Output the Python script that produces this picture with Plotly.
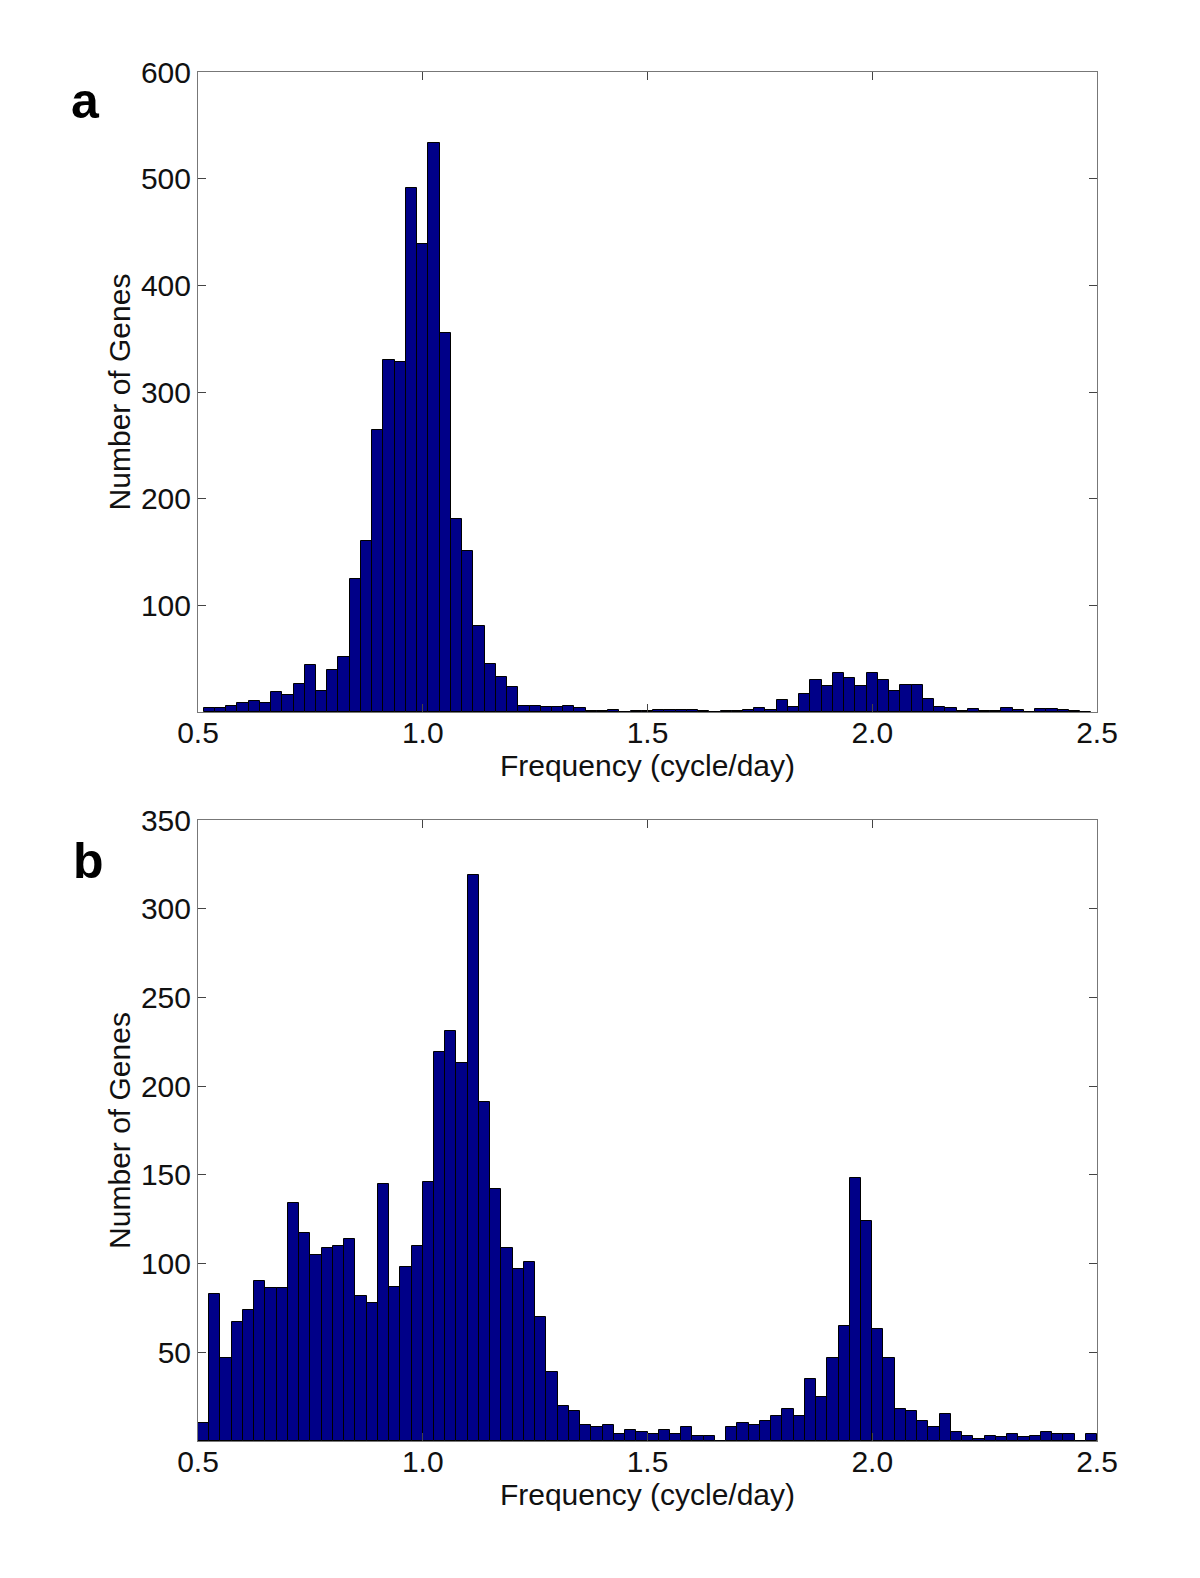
import plotly.graph_objects as go

# Panel a: bin centers 0.525 ... 2.475 (width 0.025)
a_centers = [round(0.525 + 0.025 * k, 4) for k in range(79)]
a_counts = [4, 4, 6, 8, 10, 8, 19, 16, 26, 44, 20, 39, 52, 125, 160, 264, 330, 328, 491, 439,
            533, 355, 181, 151, 81, 45, 33, 23, 6, 6, 5, 5, 6, 4, 1, 1, 2, 0, 1, 1,
            2, 2, 2, 2, 1, 0, 1, 1, 2, 4, 2, 11, 5, 17, 30, 24, 37, 32, 24, 37,
            30, 20, 25, 25, 12, 5, 4, 1, 3, 1, 1, 4, 2, 0, 3, 3, 2, 1, 0]

# Panel b: bin centers 0.5125 ... 2.4875 (width 0.025)
b_centers = [round(0.5125 + 0.025 * k, 4) for k in range(80)]
b_counts = [10, 83, 47, 67, 74, 90, 86, 86, 134, 117, 105, 109, 110, 114, 82, 78, 145, 87, 98, 110,
            146, 219, 231, 213, 319, 191, 142, 109, 97, 101, 70, 39, 20, 17, 9, 8, 9, 4, 6, 5,
            4, 6, 4, 8, 3, 3, 0, 8, 10, 9, 11, 14, 18, 14, 35, 25, 47, 65, 148, 124,
            63, 47, 18, 17, 11, 8, 15, 5, 3, 1, 3, 2, 4, 2, 3, 5, 4, 4, 0, 4]

x_ticks = [0.5, 1.0, 1.5, 2.0, 2.5]
x_ticklabels = ["0.5", "1.0", "1.5", "2.0", "2.5"]
a_yticks = [100, 200, 300, 400, 500, 600]
b_yticks = [50, 100, 150, 200, 250, 300, 350]

W, H = 1200, 1578
FONT = "Liberation Sans, Arial, sans-serif"
FS = 30
BAR = "#000088"
OFF = 8  # page body margin

# plot-area pixel frame (figure coords)
L, R, T, B = 198 - OFF, 1097 - OFF, 72 - OFF, 1441 - OFF
PW, PH = R - L, B - T


def px_x(x):
    return (x - OFF - L) / PW


def px_y(y):
    return (B - (y - OFF)) / PH


fig = go.Figure()
fig.add_trace(go.Bar(x=a_centers, y=a_counts, width=0.025, marker=dict(color=BAR, line=dict(color="black", width=1)),
                     xaxis="x", yaxis="y", showlegend=False))
fig.add_trace(go.Bar(x=b_centers, y=b_counts, width=0.025, marker=dict(color=BAR, line=dict(color="black", width=1)),
                     xaxis="x2", yaxis="y2", showlegend=False))

ya = [px_y(712), 1]
yb = [0, px_y(820)]

axcommon = dict(showline=True, linecolor="#777777", linewidth=1, mirror="ticks", ticks="inside",
                ticklen=8, tickcolor="#444444", showgrid=False, zeroline=False, automargin=False,
                tickfont=dict(family=FONT, size=FS, color="#111111"))
tfont = dict(family=FONT, size=FS, color="#111111")

fig.update_layout(
    width=W, height=H, margin=dict(l=L, r=W - R, t=T, b=H - B, autoexpand=False),
    paper_bgcolor="white", plot_bgcolor="white", bargap=0,
    xaxis=dict(domain=[0, 1], anchor="y", range=[0.5, 2.5], tickvals=x_ticks, ticktext=x_ticklabels,
               ticklabelstandoff=-6,
               title=dict(text="Frequency (cycle/day)", font=tfont, standoff=0), **axcommon),
    yaxis=dict(domain=ya, anchor="x", range=[0, 600], tickvals=a_yticks,
               title=dict(text="Number of Genes", font=tfont, standoff=1), **axcommon),
    xaxis2=dict(domain=[0, 1], anchor="y2", range=[0.5, 2.5], tickvals=x_ticks, ticktext=x_ticklabels,
                ticklabelstandoff=-6,
                title=dict(text="Frequency (cycle/day)", font=tfont, standoff=0), **axcommon),
    yaxis2=dict(domain=yb, anchor="x2", range=[0, 350], tickvals=b_yticks,
                title=dict(text="Number of Genes", font=tfont, standoff=1), **axcommon),
    annotations=[
        dict(text="<b>a</b>", x=px_x(85), y=px_y(101), xref="paper", yref="paper", showarrow=False,
             font=dict(family=FONT, size=50, color="black"), xanchor="center", yanchor="middle"),
        dict(text="<b>b</b>", x=px_x(88), y=px_y(861), xref="paper", yref="paper", showarrow=False,
             font=dict(family=FONT, size=50, color="black"), xanchor="center", yanchor="middle"),
    ],
)

fig.write_html("out.html")
